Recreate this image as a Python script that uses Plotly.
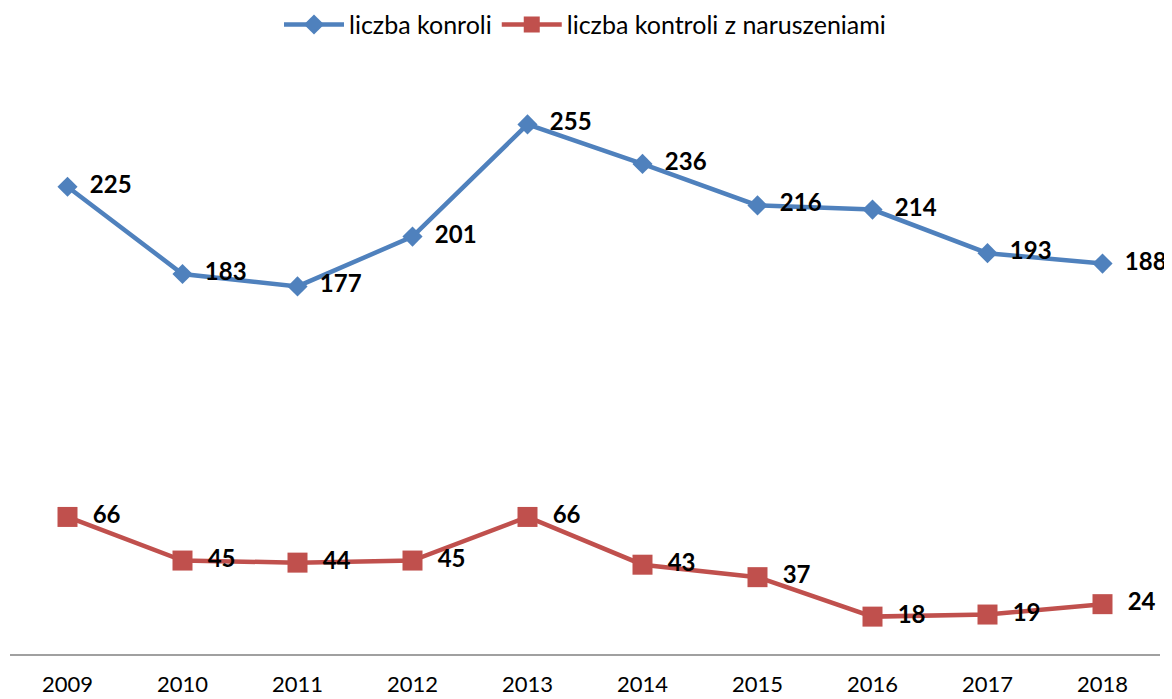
import plotly.graph_objects as go

years = ["2009", "2010", "2011", "2012", "2013", "2014", "2015", "2016", "2017", "2018"]
liczba_kontroli = [225, 183, 177, 201, 255, 236, 216, 214, 193, 188]
liczba_naruszen = [66, 45, 44, 45, 66, 43, 37, 18, 19, 24]

FONT = "Lato, 'Open Sans', sans-serif"

fig = go.Figure()
fig.add_trace(go.Scatter(
    x=years, y=liczba_kontroli, name="liczba konroli",
    mode="lines+markers+text", cliponaxis=False,
    line=dict(color="#4F81BD", width=4.5),
    marker=dict(symbol="diamond", size=15.5, color="#4F81BD"),
    text=[f"  {v}" for v in liczba_kontroli],
    textposition="middle right",
    textfont=dict(family=FONT, size=24, color="#000000", weight="bold"),
))
fig.add_trace(go.Scatter(
    x=years, y=liczba_naruszen, name="liczba kontroli z naruszeniami",
    mode="lines+markers+text", cliponaxis=False,
    line=dict(color="#C0504D", width=4.5),
    marker=dict(symbol="square", size=20, color="#C0504D"),
    text=[f"  {v}" for v in liczba_naruszen],
    textposition="middle right",
    textfont=dict(family=FONT, size=24, color="#000000", weight="bold"),
))

# the page body has an 8px default margin, so the figure is made 8px smaller
fig.update_layout(
    width=1164, height=691,
    margin=dict(l=2, r=12, t=23, b=45, autoexpand=False),
    paper_bgcolor="white", plot_bgcolor="white",
    font=dict(family=FONT, size=23, color="#000000"),
    showlegend=True,
    legend=dict(orientation="h", x=0.5, xanchor="center", y=1.01, yanchor="middle",
                font=dict(size=25), itemwidth=60, traceorder="normal"),
    xaxis=dict(type="category", showgrid=False, zeroline=False,
               showline=True, linecolor="#A0A0A0", linewidth=2,
               ticks="", tickfont=dict(size=22), ticklabelstandoff=10,
               range=[-0.5, 9.5]),
    yaxis=dict(range=[0, 300], showgrid=False, zeroline=False,
               showline=False, showticklabels=False, ticks=""),
)

fig.write_html("out.html")
